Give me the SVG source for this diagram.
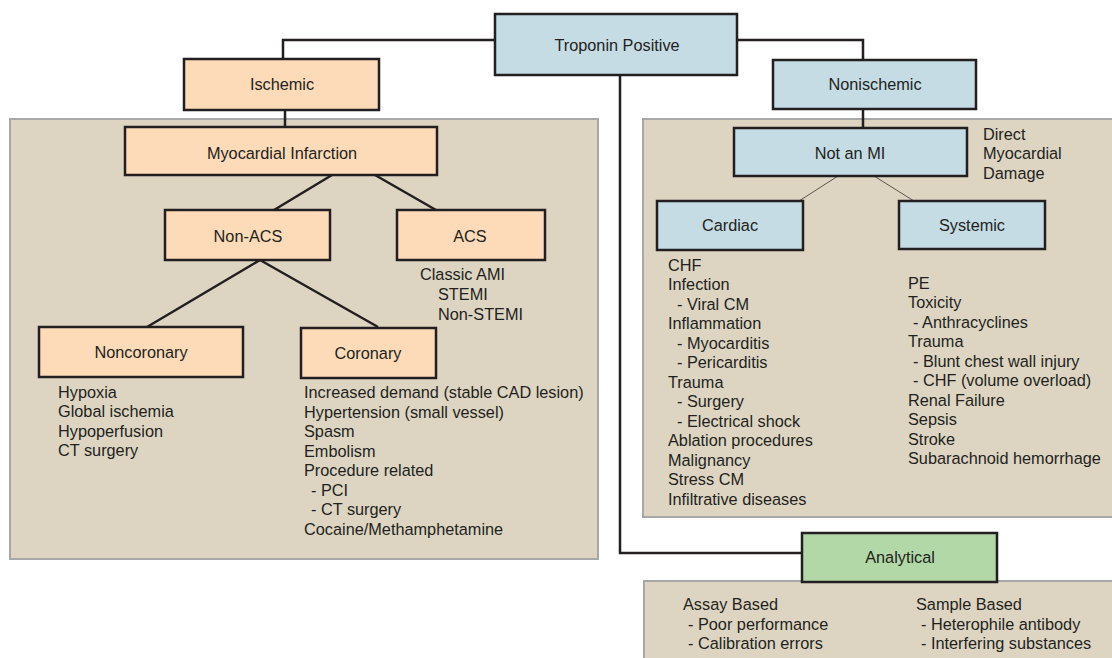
<svg xmlns="http://www.w3.org/2000/svg" width="1112" height="658" viewBox="0 0 1112 658">
<style>
text{font-family:"Liberation Sans",Arial,sans-serif;font-size:16.3px;fill:#231f20}
.c{text-anchor:middle}
.panel{fill:#ddd5c2;stroke:#a7a7a7;stroke-width:2}
.box{stroke:#231f20;stroke-width:2.5}
.or{fill:#fddbb8}
.bl{fill:#c5dce5}
.gr{fill:#b2d8a8}
.ln{fill:none;stroke:#231f20;stroke-width:2.5}
.thin{fill:none;stroke:#4a4542;stroke-width:0.9}
</style>
<rect width="1112" height="658" fill="#ffffff"/>
<g id="panels">
<rect class="panel" x="10" y="119" width="588" height="440"/>
<rect class="panel" x="643" y="119" width="475" height="398"/>
<rect class="panel" x="644" y="581" width="474" height="85"/>
</g>
<g id="connectors">
<polyline class="ln" points="495,40 283,40 283,59"/>
<polyline class="ln" points="737,40 863,40 863,60"/>
<line class="ln" x1="285" y1="110" x2="285" y2="127"/>
<line class="ln" x1="863" y1="109" x2="863" y2="128"/>
<polyline class="ln" points="620,75 620,553 802,553"/>
<line class="ln" x1="332" y1="175" x2="274" y2="210"/>
<line class="ln" x1="375" y1="175" x2="436" y2="210"/>
<line class="ln" x1="260" y1="260" x2="147" y2="327"/>
<line class="ln" x1="260" y1="260" x2="378" y2="327"/>
<line class="thin" x1="838" y1="176" x2="799" y2="201"/>
<line class="thin" x1="874" y1="176" x2="914" y2="201"/>
</g>
<g id="troponin"><rect class="box bl" x="495" y="14" width="242" height="61"/><text class="c" x="617" y="51">Troponin Positive</text></g>
<g id="ischemic"><rect class="box or" x="184" y="59" width="195" height="51"/><text class="c" x="282" y="90">Ischemic</text></g>
<g id="nonischemic"><rect class="box bl" x="773" y="60" width="203" height="49"/><text class="c" x="875" y="90">Nonischemic</text></g>
<g id="mi"><rect class="box or" x="125" y="127" width="312" height="48"/><text class="c" x="282" y="159">Myocardial Infarction</text></g>
<g id="nonacs"><rect class="box or" x="165" y="210" width="165" height="50"/><text class="c" x="248" y="242">Non-ACS</text></g>
<g id="acs"><rect class="box or" x="397" y="210" width="148" height="50"/><text class="c" x="470" y="242">ACS</text>
<text x="420" y="280">Classic AMI</text><text x="438" y="300">STEMI</text><text x="438" y="319.5">Non-STEMI</text></g>
<g id="noncoronary"><rect class="box or" x="39" y="327" width="204" height="50"/><text class="c" x="141" y="358">Noncoronary</text>
<text x="58" y="397.5">Hypoxia</text><text x="58" y="417">Global ischemia</text><text x="58" y="436.5">Hypoperfusion</text><text x="58" y="456">CT surgery</text></g>
<g id="coronary"><rect class="box or" x="301" y="328" width="135" height="50"/><text class="c" x="368" y="359">Coronary</text>
<text x="304" y="398">Increased demand (stable CAD lesion)</text>
<text x="304" y="417.5">Hypertension (small vessel)</text>
<text x="304" y="437">Spasm</text>
<text x="304" y="456.5">Embolism</text>
<text x="304" y="476">Procedure related</text>
<text x="311" y="495.5">- PCI</text>
<text x="311" y="515">- CT surgery</text>
<text x="304" y="534.5">Cocaine/Methamphetamine</text></g>
<g id="notanmi"><rect class="box bl" x="734" y="128" width="233" height="48"/><text class="c" x="850" y="159">Not an MI</text>
<text x="983" y="139.5">Direct</text><text x="983" y="159">Myocardial</text><text x="983" y="178.5">Damage</text></g>
<g id="cardiac"><rect class="box bl" x="657" y="201" width="146" height="49"/><text class="c" x="730" y="231">Cardiac</text>
<text x="668" y="270.5">CHF</text>
<text x="668" y="290">Infection</text>
<text x="677" y="309.5">- Viral CM</text>
<text x="668" y="329">Inflammation</text>
<text x="677" y="348.5">- Myocarditis</text>
<text x="677" y="368">- Pericarditis</text>
<text x="668" y="387.5">Trauma</text>
<text x="677" y="407">- Surgery</text>
<text x="677" y="426.5">- Electrical shock</text>
<text x="668" y="446">Ablation procedures</text>
<text x="668" y="465.5">Malignancy</text>
<text x="668" y="485">Stress CM</text>
<text x="668" y="504.5">Infiltrative diseases</text></g>
<g id="systemic"><rect class="box bl" x="899" y="201" width="146" height="48"/><text class="c" x="972" y="231">Systemic</text>
<text x="908" y="288.5">PE</text>
<text x="908" y="308">Toxicity</text>
<text x="913" y="327.5">- Anthracyclines</text>
<text x="908" y="347">Trauma</text>
<text x="913" y="366.5">- Blunt chest wall injury</text>
<text x="913" y="386">- CHF (volume overload)</text>
<text x="908" y="405.5">Renal Failure</text>
<text x="908" y="425">Sepsis</text>
<text x="908" y="444.5">Stroke</text>
<text x="908" y="464">Subarachnoid hemorrhage</text></g>
<g id="analytical"><rect class="box gr" x="802" y="533" width="195" height="49"/><text class="c" x="900" y="562.5">Analytical</text>
<text x="683" y="610">Assay Based</text>
<text x="688" y="629.5">- Poor performance</text>
<text x="688" y="649">- Calibration errors</text>
<text x="916" y="610">Sample Based</text>
<text x="921" y="629.5">- Heterophile antibody</text>
<text x="921" y="649">- Interfering substances</text></g>
</svg>
